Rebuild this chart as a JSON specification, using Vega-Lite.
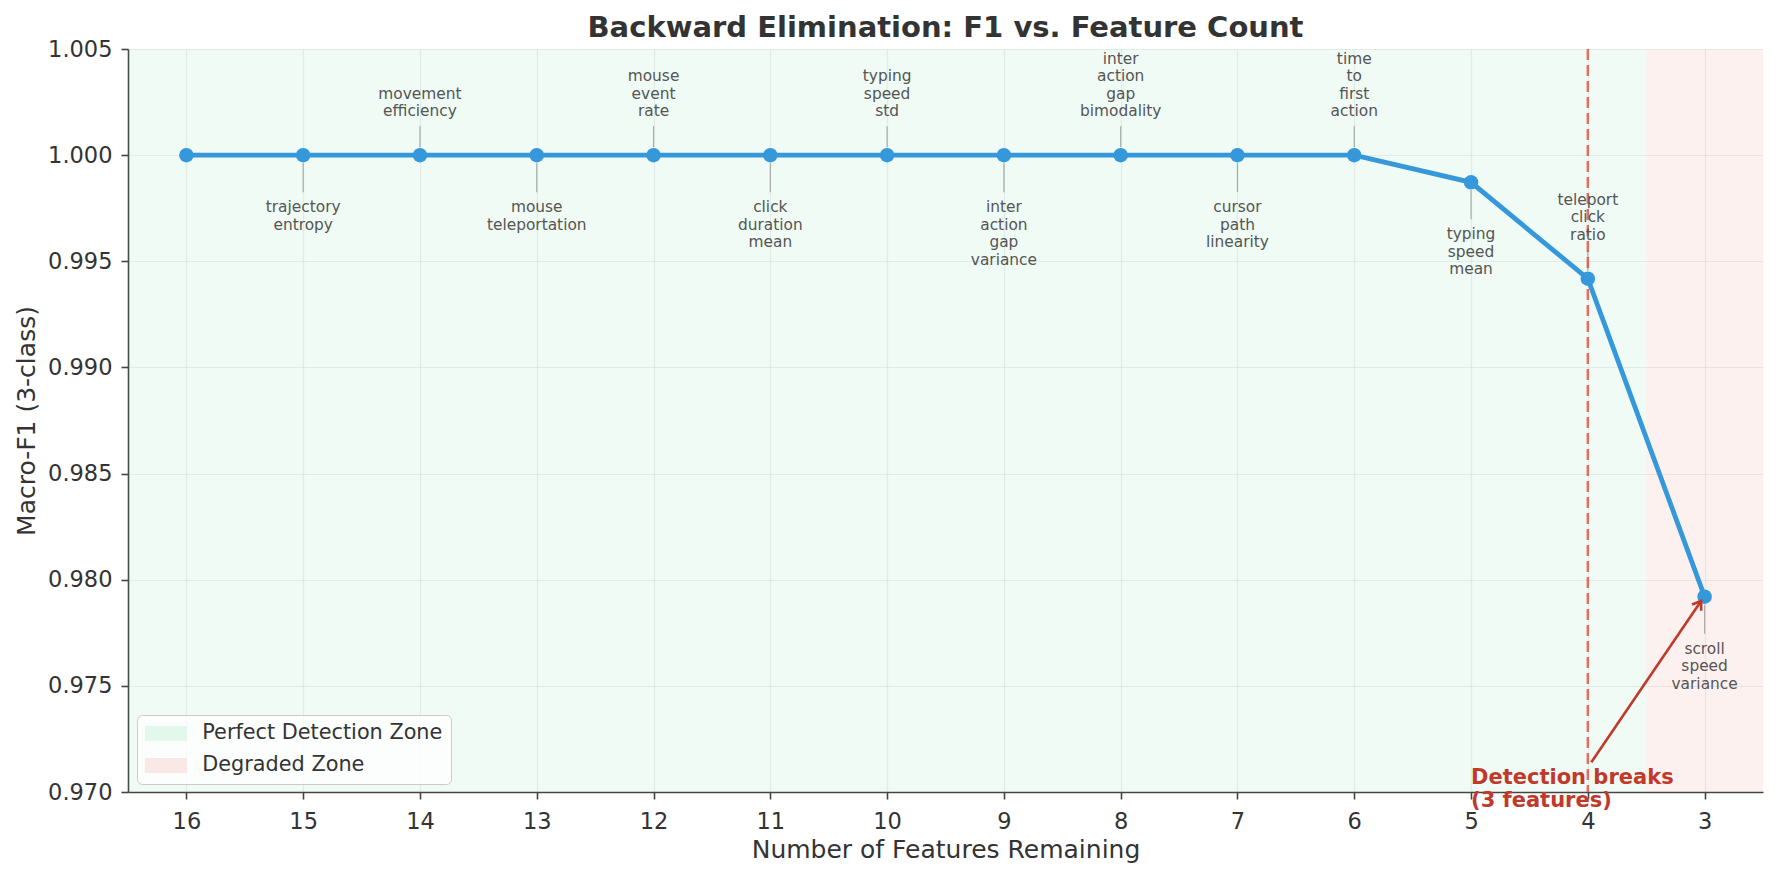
{
  "$schema": "https://vega.github.io/schema/vega-lite/v6.json",
  "width": 1635,
  "height": 743,
  "autosize": {"type": "none"},
  "padding": {"left": 128, "top": 49, "right": 14, "bottom": 85},
  "background": "white",
  "title": {
    "text": "Backward Elimination: F1 vs. Feature Count",
    "font": "DejaVu Sans",
    "fontSize": 29,
    "fontWeight": "bold",
    "color": "#333333",
    "offset": 12,
    "dy": 17
  },
  "datasets": {
    "zones": [
      {"zone": "Perfect Detection Zone", "features": 16.5, "end": 3.5},
      {"zone": "Degraded Zone", "features": 3.5, "end": 2.5}
    ],
    "steps": [
      {"features": 16, "f1": 1.0, "label": "", "pos": "none"},
      {"features": 15, "f1": 1.0, "label": "trajectory entropy", "pos": "below"},
      {"features": 14, "f1": 1.0, "label": "movement efficiency", "pos": "above"},
      {"features": 13, "f1": 1.0, "label": "mouse teleportation", "pos": "below"},
      {"features": 12, "f1": 1.0, "label": "mouse event rate", "pos": "above"},
      {"features": 11, "f1": 1.0, "label": "click duration mean", "pos": "below"},
      {"features": 10, "f1": 1.0, "label": "typing speed std", "pos": "above"},
      {"features": 9, "f1": 1.0, "label": "inter action gap variance", "pos": "below"},
      {"features": 8, "f1": 1.0, "label": "inter action gap bimodality", "pos": "above"},
      {"features": 7, "f1": 1.0, "label": "cursor path linearity", "pos": "below"},
      {"features": 6, "f1": 1.0, "label": "time to first action", "pos": "above"},
      {"features": 5, "f1": 0.99872, "label": "typing speed mean", "pos": "below"},
      {"features": 4, "f1": 0.99418, "label": "teleport click ratio", "pos": "above"},
      {"features": 3, "f1": 0.9792, "label": "scroll speed variance", "pos": "below"}
    ],
    "threshold": [{"features": 4}],
    "arrow": [{"features": 3.97, "f1": 0.9714, "end_features": 3.03, "end_f1": 0.979}],
    "note": [{"features": 5, "f1": 0.97, "text": "Detection breaks\n(3 features)"}]
  },
  "layer": [
    {
      "data": {"name": "zones"},
      "mark": {"type": "rect", "opacity": 0.08},
      "encoding": {
        "x": {
          "field": "features",
          "type": "quantitative",
          "scale": {"domain": [2.5, 16.5], "reverse": true, "nice": false, "zero": false},
          "axis": {"values": [3, 4, 5, 6, 7, 8, 9, 10, 11, 12, 13, 14, 15, 16], "format": "d"},
          "title": "Number of Features Remaining"
        },
        "x2": {"field": "end"},
        "color": {
          "field": "zone",
          "type": "nominal",
          "scale": {"domain": ["Perfect Detection Zone", "Degraded Zone"], "range": ["#2ecc71", "#e74c3c"]},
          "legend": {
            "orient": "none",
            "legendX": 9,
            "legendY": 666,
            "title": null,
            "labelFont": "DejaVu Sans",
            "labelFontSize": 20.8,
            "labelColor": "#333333",
            "labelLimit": 0,
            "symbolType": "M-2.8,-1L2.8,-1L2.8,1L-2.8,1Z",
            "symbolSize": 225,
            "symbolOpacity": 0.12,
            "symbolStrokeWidth": 1.5,
            "symbolOffset": 10.5,
            "labelOffset": 26,
            "rowPadding": 10,
            "padding": 8,
            "fillColor": "rgba(255,255,255,0.8)",
            "strokeColor": "#cccccc",
            "cornerRadius": 5
          }
        }
      }
    },
    {
      "data": {"name": "steps"},
      "transform": [{"filter": "datum.pos === 'above'"}],
      "mark": {"type": "rule", "color": "#999999", "strokeWidth": 1.2, "opacity": 0.8, "yOffset": -8, "y2Offset": -29},
      "encoding": {
        "x": {"field": "features", "type": "quantitative", "scale": {"domain": [2.5, 16.5], "reverse": true, "nice": false, "zero": false}, "title": "Number of Features Remaining"},
        "y": {"field": "f1", "type": "quantitative", "scale": {"domain": [0.97, 1.005], "nice": false, "zero": false}, "title": "Macro-F1 (3-class)"},
        "y2": {"field": "f1"}
      }
    },
    {
      "data": {"name": "steps"},
      "transform": [{"filter": "datum.pos === 'below'"}],
      "mark": {"type": "rule", "color": "#999999", "strokeWidth": 1.2, "opacity": 0.8, "yOffset": 8, "y2Offset": 37},
      "encoding": {
        "x": {"field": "features", "type": "quantitative", "scale": {"domain": [2.5, 16.5], "reverse": true, "nice": false, "zero": false}, "title": "Number of Features Remaining"},
        "y": {"field": "f1", "type": "quantitative", "scale": {"domain": [0.97, 1.005], "nice": false, "zero": false}, "title": "Macro-F1 (3-class)"},
        "y2": {"field": "f1"}
      }
    },
    {
      "data": {"name": "threshold"},
      "mark": {"type": "rule", "color": "#e74c3c", "opacity": 0.8, "strokeWidth": 2.5, "strokeDash": [11, 5]},
      "encoding": {
        "x": {"field": "features", "type": "quantitative", "scale": {"domain": [2.5, 16.5], "reverse": true, "nice": false, "zero": false}, "title": "Number of Features Remaining"}
      }
    },
    {
      "data": {"name": "steps"},
      "mark": {"type": "line", "color": "#3498db", "strokeWidth": 4.8},
      "encoding": {
        "x": {"field": "features", "type": "quantitative", "scale": {"domain": [2.5, 16.5], "reverse": true, "nice": false, "zero": false}, "title": "Number of Features Remaining"},
        "y": {
          "field": "f1",
          "type": "quantitative",
          "scale": {"domain": [0.97, 1.005], "nice": false, "zero": false},
          "axis": {"values": [0.97, 0.975, 0.98, 0.985, 0.99, 0.995, 1.0, 1.005], "format": ".3f"},
          "title": "Macro-F1 (3-class)"
        }
      }
    },
    {
      "data": {"name": "steps"},
      "mark": {"type": "point", "filled": true, "color": "#3498db", "opacity": 1, "size": 210},
      "encoding": {
        "x": {"field": "features", "type": "quantitative", "scale": {"domain": [2.5, 16.5], "reverse": true, "nice": false, "zero": false}, "title": "Number of Features Remaining"},
        "y": {"field": "f1", "type": "quantitative", "scale": {"domain": [0.97, 1.005], "nice": false, "zero": false}, "title": "Macro-F1 (3-class)"}
      }
    },
    {
      "data": {"name": "steps"},
      "transform": [{"filter": "datum.pos === 'above' && length(split(datum.label, ' ')) === 2"}],
      "mark": {"type": "text", "align": "center", "baseline": "bottom", "dy": -53.5, "font": "DejaVu Sans", "fontSize": 15.4, "lineHeight": 17.5, "color": "#555555", "lineBreak": " "},
      "encoding": {
        "x": {"field": "features", "type": "quantitative", "scale": {"domain": [2.5, 16.5], "reverse": true, "nice": false, "zero": false}, "title": "Number of Features Remaining"},
        "y": {"field": "f1", "type": "quantitative", "scale": {"domain": [0.97, 1.005], "nice": false, "zero": false}, "title": "Macro-F1 (3-class)"},
        "text": {"field": "label"}
      }
    },
    {
      "data": {"name": "steps"},
      "transform": [{"filter": "datum.pos === 'above' && length(split(datum.label, ' ')) === 3"}],
      "mark": {"type": "text", "align": "center", "baseline": "bottom", "dy": -71, "font": "DejaVu Sans", "fontSize": 15.4, "lineHeight": 17.5, "color": "#555555", "lineBreak": " "},
      "encoding": {
        "x": {"field": "features", "type": "quantitative", "scale": {"domain": [2.5, 16.5], "reverse": true, "nice": false, "zero": false}, "title": "Number of Features Remaining"},
        "y": {"field": "f1", "type": "quantitative", "scale": {"domain": [0.97, 1.005], "nice": false, "zero": false}, "title": "Macro-F1 (3-class)"},
        "text": {"field": "label"}
      }
    },
    {
      "data": {"name": "steps"},
      "transform": [{"filter": "datum.pos === 'above' && length(split(datum.label, ' ')) === 4"}],
      "mark": {"type": "text", "align": "center", "baseline": "bottom", "dy": -88.5, "font": "DejaVu Sans", "fontSize": 15.4, "lineHeight": 17.5, "color": "#555555", "lineBreak": " "},
      "encoding": {
        "x": {"field": "features", "type": "quantitative", "scale": {"domain": [2.5, 16.5], "reverse": true, "nice": false, "zero": false}, "title": "Number of Features Remaining"},
        "y": {"field": "f1", "type": "quantitative", "scale": {"domain": [0.97, 1.005], "nice": false, "zero": false}, "title": "Macro-F1 (3-class)"},
        "text": {"field": "label"}
      }
    },
    {
      "data": {"name": "steps"},
      "transform": [{"filter": "datum.pos === 'below'"}],
      "mark": {"type": "text", "align": "center", "baseline": "top", "dy": 45, "font": "DejaVu Sans", "fontSize": 15.4, "lineHeight": 17.5, "color": "#555555", "lineBreak": " "},
      "encoding": {
        "x": {"field": "features", "type": "quantitative", "scale": {"domain": [2.5, 16.5], "reverse": true, "nice": false, "zero": false}, "title": "Number of Features Remaining"},
        "y": {"field": "f1", "type": "quantitative", "scale": {"domain": [0.97, 1.005], "nice": false, "zero": false}, "title": "Macro-F1 (3-class)"},
        "text": {"field": "label"}
      }
    },
    {
      "data": {"name": "arrow"},
      "mark": {"type": "rule", "color": "#c0392b", "strokeWidth": 2.6},
      "encoding": {
        "x": {"field": "features", "type": "quantitative", "scale": {"domain": [2.5, 16.5], "reverse": true, "nice": false, "zero": false}, "title": "Number of Features Remaining"},
        "y": {"field": "f1", "type": "quantitative", "scale": {"domain": [0.97, 1.005], "nice": false, "zero": false}, "title": "Macro-F1 (3-class)"},
        "x2": {"field": "end_features"},
        "y2": {"field": "end_f1"}
      }
    },
    {
      "data": {"name": "arrow"},
      "mark": {"type": "point", "shape": "M-0.55,0.8L0,0L0.55,0.8", "filled": false, "opacity": 1, "color": "#c0392b", "strokeWidth": 2.6, "size": 400, "angle": 34},
      "encoding": {
        "x": {"field": "end_features", "type": "quantitative", "scale": {"domain": [2.5, 16.5], "reverse": true, "nice": false, "zero": false}, "title": "Number of Features Remaining"},
        "y": {"field": "end_f1", "type": "quantitative", "scale": {"domain": [0.97, 1.005], "nice": false, "zero": false}, "title": "Macro-F1 (3-class)"}
      }
    },
    {
      "data": {"name": "note"},
      "mark": {"type": "text", "align": "left", "baseline": "middle", "dy": -14, "font": "DejaVu Sans", "fontSize": 21, "fontWeight": "bold", "lineHeight": 23, "color": "#c0392b", "lineBreak": "\n"},
      "encoding": {
        "x": {"field": "features", "type": "quantitative", "scale": {"domain": [2.5, 16.5], "reverse": true, "nice": false, "zero": false}, "title": "Number of Features Remaining"},
        "y": {"field": "f1", "type": "quantitative", "scale": {"domain": [0.97, 1.005], "nice": false, "zero": false}, "title": "Macro-F1 (3-class)"},
        "text": {"field": "text"}
      }
    }
  ],
  "config": {
    "view": {"stroke": null},
    "font": "DejaVu Sans",
    "axis": {
      "domainColor": "#444444",
      "domainWidth": 1.6,
      "tickColor": "#444444",
      "tickWidth": 1.6,
      "tickSize": 7,
      "labelFont": "DejaVu Sans",
      "labelFontSize": 22.5,
      "labelColor": "#333333",
      "titleFont": "DejaVu Sans",
      "titleFontSize": 25,
      "titleFontWeight": "normal",
      "titleColor": "#333333",
      "grid": true,
      "gridColor": "#b0b0b0",
      "gridOpacity": 0.2,
      "gridWidth": 1.2
    },
    "axisX": {"labelPadding": 11, "titlePadding": 5},
    "axisY": {"labelPadding": 9, "titlePadding": 8}
  }
}
